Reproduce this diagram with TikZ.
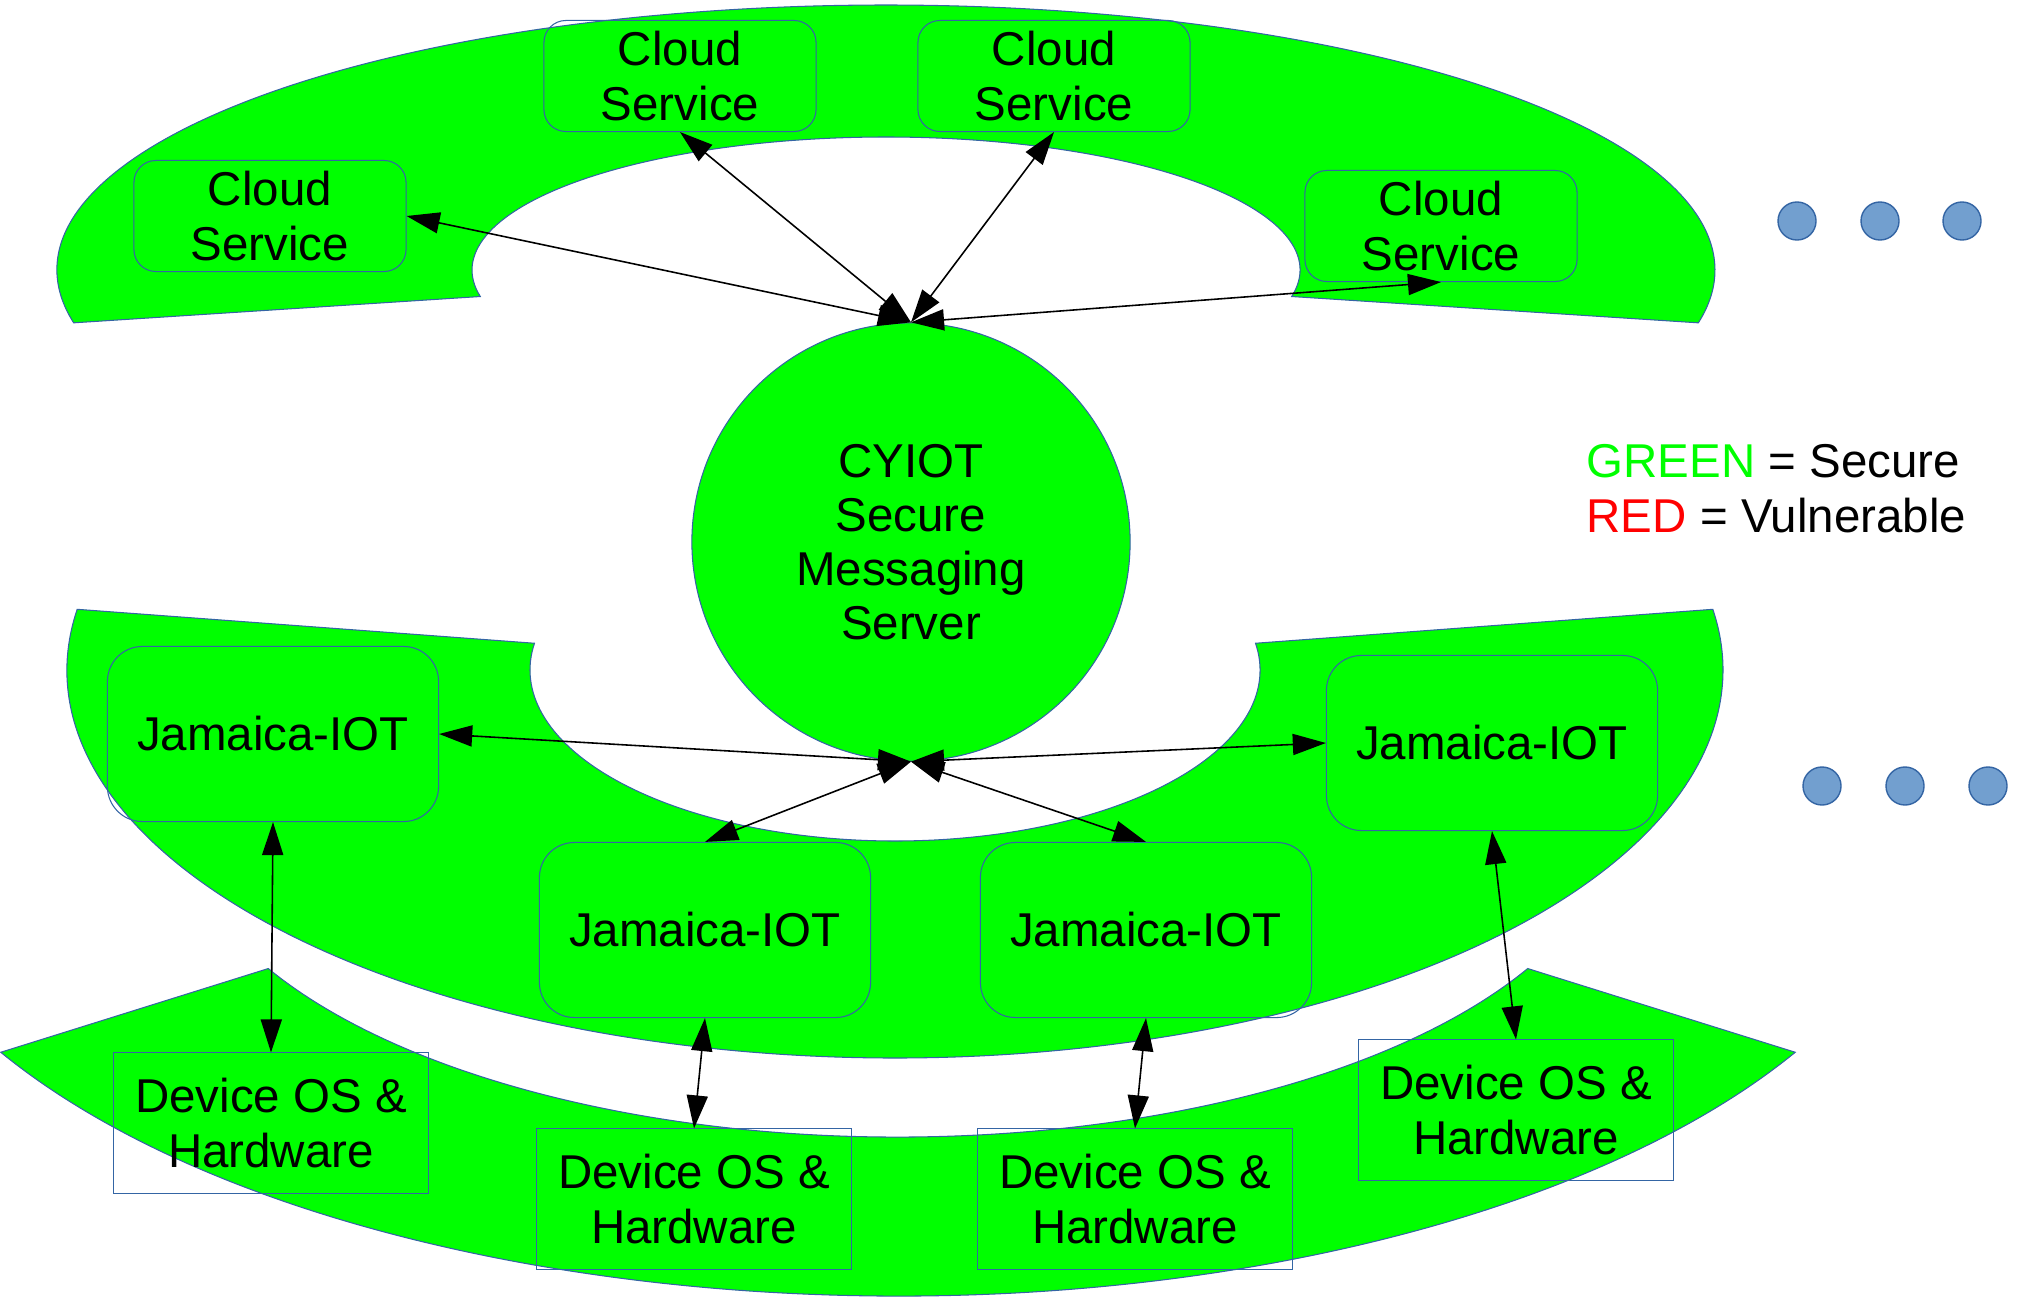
\documentclass[tikz,border=0pt]{standalone}
\usepackage{fontspec}
\setmainfont{Liberation Sans}
\usetikzlibrary{shapes,arrows.meta}

\definecolor{okgreen}{HTML}{00FF00}
\definecolor{lineblue}{HTML}{3465A4}
\definecolor{dotblue}{HTML}{729FCF}

\begin{document}
\begin{tikzpicture}[%
    >={Triangle[length=9.4pt,width=6pt]}, % Big filled heads, as in the sketch
    x=0.01cm, y=0.01cm,                   % One unit is one pixel of the sketch
    ]
% -------------------------------------------------
% A few styles
\tikzset{
  band/.style={fill=okgreen, draw=lineblue, line width=0.3pt},
  base/.style={draw=lineblue, line width=0.3pt, align=center, inner sep=0pt,
    font=\fontsize{13.5}{15.4}\selectfont},
  cloudbox/.style={base, rectangle, rounded corners=2.2mm,
    minimum width=2.72cm, minimum height=1.11cm},
  iotbox/.style={base, rectangle, rounded corners=3.5mm,
    minimum width=3.31cm, minimum height=1.75cm},
  devbox/.style={base, rectangle, minimum width=3.14cm, minimum height=1.40cm},
  hub/.style={base, circle, fill=okgreen, minimum size=4.38cm},
  more/.style={circle, fill=dotblue, draw=lineblue, line width=0.4pt,
    minimum size=0.38cm, inner sep=0pt},
  link/.style={<->, draw, line width=0.45pt},
  legend/.style={align=left, inner sep=0pt, font=\fontsize{13.5}{15.4}\selectfont}
}
\useasboundingbox (0,0) rectangle (2021,-1297);
% -------------------------------------------------
% The three green rings
\path[band, shift={(886,-270)}] (191.5:829 and 265)
  arc[start angle=191.5, end angle=-11.5, x radius=829, y radius=265]
  -- (-11.5:414 and 133)
  arc[start angle=-11.5, end angle=191.5, x radius=414, y radius=133] -- cycle;
\path[band, shift={(895,-670)}] (171:828 and 388)
  arc[start angle=171, end angle=369, x radius=828, y radius=388]
  -- (9:365 and 171)
  arc[start angle=9, end angle=-189, x radius=365, y radius=171] -- cycle;
\path[band, shift={(898,-810)}] (209.9:1035 and 486)
  arc[start angle=209.9, end angle=330.1, x radius=1035, y radius=486]
  -- (331:720 and 327)
  arc[start angle=331, end angle=209, x radius=720, y radius=327] -- cycle;
% -------------------------------------------------
% Now the nodes
\node [hub] (hub) at (911,-542) {CYIOT\\Secure\\Messaging\\Server};

\node [cloudbox] (cs1) at (270,-216)  {Cloud\\Service};
\node [cloudbox] (cs2) at (680,-76)   {Cloud\\Service};
\node [cloudbox] (cs3) at (1054,-76)  {Cloud\\Service};
\node [cloudbox] (cs4) at (1441,-226) {Cloud\\Service};

\node [iotbox] (iot1) at (273,-734)  {Jamaica-IOT};
\node [iotbox] (iot2) at (705,-930)  {Jamaica-IOT};
\node [iotbox] (iot3) at (1146,-930) {Jamaica-IOT};
\node [iotbox] (iot4) at (1492,-743) {Jamaica-IOT};

\node [devbox] (dev1) at (271,-1123)  {Device OS \&\\Hardware};
\node [devbox] (dev2) at (694,-1199)  {Device OS \&\\Hardware};
\node [devbox] (dev3) at (1135,-1199) {Device OS \&\\Hardware};
\node [devbox] (dev4) at (1516,-1110) {Device OS \&\\Hardware};

% "and so on" dots
\node [more] (dotA1) at (1797,-221) {};
\node [more] (dotA2) at (1880,-221) {};
\node [more] (dotA3) at (1962,-221) {};
\node [more] (dotB1) at (1822,-786) {};
\node [more] (dotB2) at (1905,-786) {};
\node [more] (dotB3) at (1988,-786) {};

\node [legend, anchor=north west] (key) at (1586,-444)
  {\textcolor{okgreen}{GREEN} = Secure\\\textcolor{red}{RED} = Vulnerable};
% -------------------------------------------------
% Connectors
\draw [link] (hub.north) -- (cs1.east);
\draw [link] (hub.north) -- (cs2.south);
\draw [link] (hub.north) -- (cs3.south);
\draw [link] (hub.north) -- (cs4.south);

\draw [link] (hub.south) -- (iot1.east);
\draw [link] (hub.south) -- (iot2.north);
\draw [link] (hub.south) -- (iot3.north);
\draw [link] (hub.south) -- (iot4.west);

\draw [link] (iot1.south) -- (dev1.north);
\draw [link] (iot2.south) -- (dev2.north);
\draw [link] (iot3.south) -- (dev3.north);
\draw [link] (iot4.south) -- (dev4.north);
% -------------------------------------------------
\end{tikzpicture}
\end{document}
